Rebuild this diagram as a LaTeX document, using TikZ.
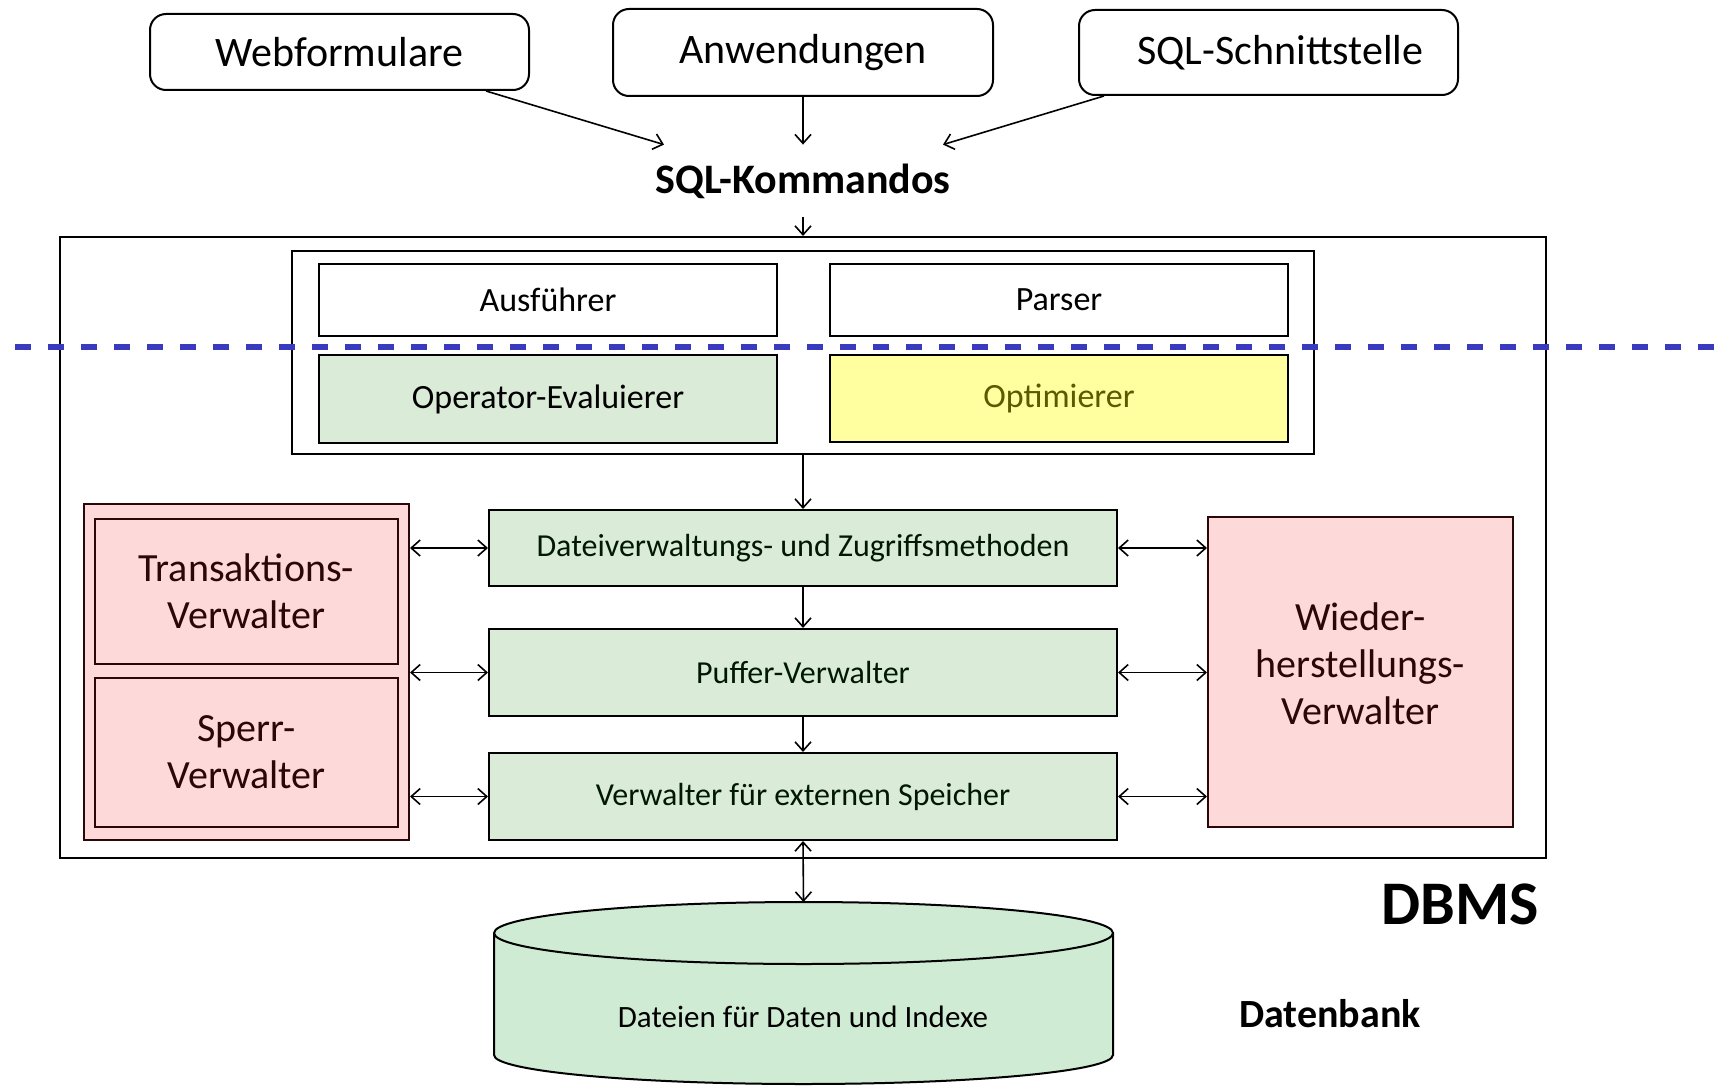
\documentclass[tikz,border=0pt]{standalone}
\usepackage{fontspec}
\setmainfont{Carlito}
\usetikzlibrary{arrows.meta}
\definecolor{boxgreen}{HTML}{DAEBD8}
\definecolor{dbgreen}{HTML}{D0EBD3}
\definecolor{boxpink}{HTML}{FDD9DA}
\definecolor{boxyellow}{HTML}{FFFFA0}
\definecolor{layerblue}{HTML}{3A3ABE}
\definecolor{pinktext}{HTML}{2B0808}
\definecolor{olivetext}{HTML}{5A5A00}
\tikzset{
    client/.style={draw, line width=1pt, rounded corners=8pt, font=\fontsize{21}{24}\selectfont},
    plainbox/.style={draw, line width=1pt},
    qpbox/.style={draw, line width=1pt, minimum width=229pt, font=\fontsize{17}{20}\selectfont},
    layer/.style={draw, line width=1pt, fill=boxgreen, minimum width=314pt, font=\fontsize{16}{19}\selectfont, text=black!90!green},
    mgr/.style={draw=pinktext, line width=1pt, fill=boxpink, text=pinktext, align=center, font=\fontsize{20}{23.5}\selectfont},
    flow/.style={-{Straight Barb[length=4.5pt, width=8pt]}, line width=0.8pt},
    both/.style={{Straight Barb[length=4.5pt, width=8pt]}-{Straight Barb[length=4.5pt, width=8pt]}, line width=0.8pt}
}
\begin{document}
\begin{tikzpicture}[x=0.5pt,y=-0.5pt]
    \useasboundingbox (0,0) rectangle (1724,1086);

    % Zugaenge oben
    \node[client, minimum width=189.5pt, minimum height=38pt] (web) at (339.5,52) {Webformulare};
    \node[client, minimum width=190pt, minimum height=43.5pt] (apps) at (803,52.5) {Anwendungen};
    \node[client, minimum width=189.5pt, minimum height=42.5pt] (sqlif) at (1268.5,52.5) {\hspace*{12pt}SQL-Schnittstelle};
    \node[font=\fontsize{21}{24}\selectfont\bfseries, minimum height=36pt] (cmd) at (803,181) {SQL-Kommandos};
    \draw[flow] ([xshift=-22pt]web.south east) -- ([xshift=-69.5pt]cmd.north);
    \draw[flow] (apps.south) -- (cmd.north);
    \draw[flow] ([xshift=13pt]sqlif.south west) -- ([xshift=70pt]cmd.north);

    % DBMS-Rahmen
    \node[plainbox, minimum width=743pt, minimum height=310.5pt] (dbms) at (803,547.5) {};
    \draw[flow] (cmd.south) -- (dbms.north);

    % Anfragebearbeitung
    \node[plainbox, minimum width=511pt, minimum height=101.5pt] (qp) at (803,352.5) {};
    \node[qpbox, minimum height=36pt] (exec) at (548,300) {Ausführer};
    \node[qpbox, minimum height=36pt] (parse) at (1059,300) {Parser};
    \node[qpbox, minimum height=44pt, fill=boxgreen] (opeval) at (548,399) {Operator-Evaluierer};
    \node[qpbox, minimum height=43.5pt, fill=boxyellow, text=olivetext] (optim) at (1059,398.5) {Optimierer};

    % Schichten
    \node[layer, minimum height=38pt] (files) at (803,548) {Dateiverwaltungs- und Zugriffsmethoden};
    \node[layer, minimum height=43.5pt] (buffer) at (803,672.5) {Puffer-Verwalter};
    \node[layer, minimum height=43.5pt] (disk) at (803,796.5) {Verwalter für externen Speicher};
    \draw[flow] (qp.south) -- (files.north);
    \draw[flow] (files.south) -- (buffer.north);
    \draw[flow] (buffer.south) -- (disk.north);

    % Verwalter links und rechts
    \node[mgr, minimum width=162.5pt, minimum height=168pt] (txgroup) at (246.5,672) {};
    \node[mgr, minimum width=151.5pt, minimum height=72.5pt] (txmgr) at (246.5,591.5) {Transaktions-\\Verwalter};
    \node[mgr, minimum width=151.5pt, minimum height=74.5pt] (lockmgr) at (246.5,752.5) {Sperr-\\Verwalter};
    \node[mgr, minimum width=152.5pt, minimum height=155pt] (recmgr) at (1360.5,672) {};
    \node[mgr, draw=none, fill=none] (reclbl) at (1360.5,664) {Wieder-\\herstellungs-\\Verwalter};
    \foreach \n in {files,buffer,disk} {
        \draw[both] (\n.west -| txgroup.east) -- (\n.west);
        \draw[both] (\n.east) -- (\n.east -| recmgr.west);
    }

    % Trennlinie
    \draw[layerblue, line width=3.3pt, dash pattern=on 7.75pt off 8.75pt] (15,347) -- (1724,347);

    \node[font=\fontsize{31}{34}\selectfont\bfseries] (dbmslbl) at (1460,904) {DBMS};

    % Datenbank
    \filldraw[fill=dbgreen, line width=1pt] (494,933) -- (494,1055)
        arc[start angle=180, end angle=360, x radius=154.75pt, y radius=14.5pt]
        -- (1113,933)
        arc[start angle=0, end angle=180, x radius=154.75pt, y radius=15.5pt] -- cycle;
    \draw[line width=1pt] (494,933) arc[start angle=180, end angle=360, x radius=154.75pt, y radius=15.5pt];
    \coordinate (dbtop) at (803.5,902);
    \node[font=\fontsize{15.5}{18}\selectfont] (dbfiles) at (803,1017) {Dateien für Daten und Indexe};
    \draw[both] (disk.south) -- (dbtop);
    \node[font=\fontsize{20}{24}\selectfont\bfseries] (dblbl) at (1330,1014) {Datenbank};
\end{tikzpicture}
\end{document}
